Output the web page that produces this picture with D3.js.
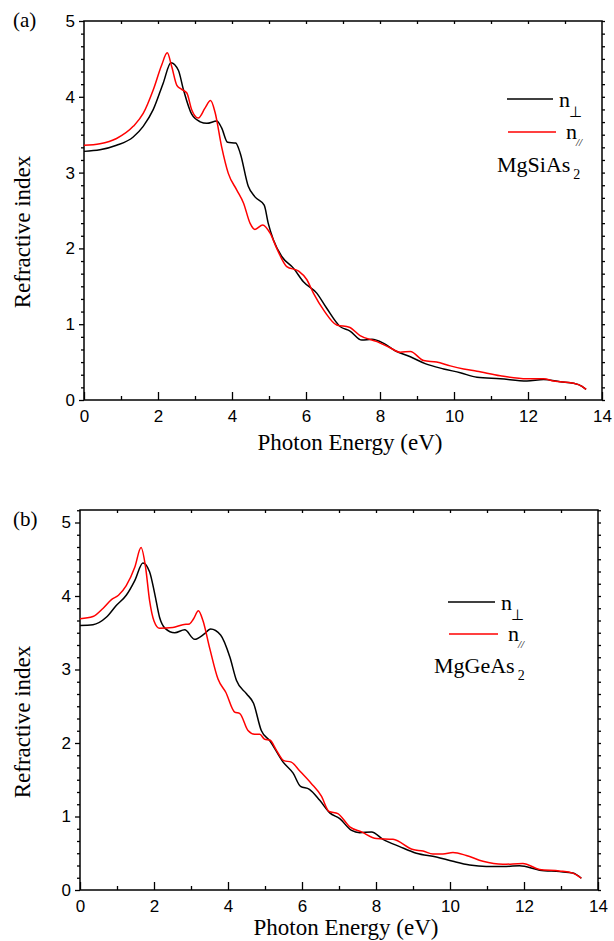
<!DOCTYPE html>
<html>
<head>
<meta charset="utf-8">
<script src="https://cdn.jsdelivr.net/npm/d3@7"></script>
<style>
  body { margin: 0; background: #fff; }
  svg { display: block; }
</style>
</head>
<body>
<div id="chart"></div>
<script>
// Data: [photon energy (eV), refractive index]
const siPerp = [
  [0, 3.28], [0.43, 3.30], [0.88, 3.36], [1.33, 3.47], [1.6, 3.61], [1.87, 3.83],
  [2.14, 4.18], [2.35, 4.45], [2.55, 4.35], [2.69, 4.09], [2.91, 3.77], [3.14, 3.67],
  [3.32, 3.65], [3.59, 3.68], [3.72, 3.59], [3.88, 3.40], [4.1, 3.39], [4.22, 3.26],
  [4.44, 2.82], [4.62, 2.68], [4.87, 2.57], [4.98, 2.33], [5.12, 2.11], [5.35, 1.89],
  [5.66, 1.74], [5.93, 1.56], [6.29, 1.41], [6.56, 1.21], [6.92, 0.97], [7.19, 0.91],
  [7.51, 0.79], [7.78, 0.80], [8.09, 0.75], [8.41, 0.65], [8.82, 0.57], [9.22, 0.48],
  [9.72, 0.41], [10.17, 0.36], [10.62, 0.30], [11.25, 0.28], [11.97, 0.25], [12.42, 0.27],
  [12.87, 0.24], [13.23, 0.22], [13.46, 0.18], [13.57, 0.14]
];
const siPar = [
  [0, 3.36], [0.43, 3.38], [0.88, 3.45], [1.33, 3.61], [1.6, 3.78], [1.87, 4.09],
  [2.1, 4.42], [2.25, 4.58], [2.37, 4.40], [2.51, 4.15], [2.6, 4.11], [2.7, 4.08],
  [2.78, 4.05], [2.91, 3.83], [3.09, 3.72], [3.27, 3.85], [3.42, 3.95], [3.54, 3.80],
  [3.72, 3.34], [3.90, 2.99], [4.13, 2.77], [4.31, 2.60], [4.49, 2.33], [4.62, 2.25],
  [4.83, 2.31], [5.03, 2.20], [5.21, 2.00], [5.48, 1.76], [5.80, 1.70], [6.02, 1.59],
  [6.20, 1.41], [6.50, 1.17], [6.83, 0.99], [7.17, 0.96], [7.46, 0.85], [7.92, 0.77],
  [8.27, 0.69], [8.55, 0.63], [8.82, 0.64], [9.18, 0.52], [9.53, 0.50], [9.90, 0.45],
  [10.26, 0.41], [10.62, 0.38], [11.25, 0.32], [11.97, 0.28], [12.42, 0.28], [12.69, 0.25],
  [13.23, 0.22], [13.46, 0.18], [13.57, 0.14]
];
const gePerp = [
  [0, 3.60], [0.35, 3.61], [0.71, 3.71], [0.98, 3.87], [1.25, 4.01], [1.48, 4.21],
  [1.70, 4.45], [1.88, 4.33], [2.02, 4.03], [2.15, 3.71], [2.3, 3.56], [2.56, 3.50],
  [2.83, 3.54], [3.10, 3.41], [3.35, 3.48], [3.53, 3.55], [3.80, 3.47], [4.05, 3.17],
  [4.23, 2.85], [4.50, 2.67], [4.69, 2.54], [4.90, 2.17], [5.13, 2.03], [5.49, 1.74],
  [5.76, 1.59], [5.96, 1.41], [6.20, 1.37], [6.48, 1.22], [6.75, 1.05], [7.02, 0.97],
  [7.34, 0.81], [7.56, 0.78], [7.88, 0.79], [8.19, 0.69], [8.64, 0.59], [9.09, 0.50],
  [9.63, 0.45], [10.08, 0.39], [10.53, 0.34], [10.98, 0.32], [11.52, 0.32], [11.88, 0.33],
  [12.42, 0.27], [12.96, 0.25], [13.32, 0.23], [13.55, 0.16]
];
const gePar = [
  [0, 3.69], [0.35, 3.72], [0.62, 3.83], [0.85, 3.95], [1.04, 4.01], [1.25, 4.14],
  [1.48, 4.39], [1.65, 4.66], [1.77, 4.40], [1.88, 3.94], [2.0, 3.66], [2.15, 3.56],
  [2.51, 3.57], [2.78, 3.61], [2.96, 3.62], [3.07, 3.69], [3.20, 3.80], [3.32, 3.67],
  [3.51, 3.28], [3.73, 2.87], [3.94, 2.69], [4.18, 2.42], [4.32, 2.40], [4.54, 2.17],
  [4.72, 2.12], [4.86, 2.12], [4.99, 2.05], [5.13, 2.04], [5.31, 1.90], [5.51, 1.76],
  [5.71, 1.74], [5.94, 1.62], [6.25, 1.45], [6.52, 1.28], [6.73, 1.07], [6.97, 1.04],
  [7.29, 0.86], [7.61, 0.79], [8.01, 0.70], [8.46, 0.69], [9.00, 0.55], [9.27, 0.53],
  [9.54, 0.49], [9.81, 0.49], [10.08, 0.51], [10.44, 0.47], [10.89, 0.39], [11.43, 0.35],
  [11.97, 0.36], [12.42, 0.28], [12.96, 0.26], [13.32, 0.23], [13.55, 0.16]
];

const xMajor = [0, 2, 4, 6, 8, 10, 12, 14];
const yMajor = [0, 1, 2, 3, 4, 5];

const serif = "'Liberation Serif', 'Times New Roman', serif";
const sans = "'Liberation Sans', Arial, sans-serif";

const W = 614, H = 941;
const svg = d3.select("#chart").append("svg").attr("width", W).attr("height", H);

// draw one panel of the figure
const drawPanel = (cfg) => {
  const { box, yMax } = cfg;
  const x = d3.scaleLinear().domain([0, 14]).range([box.left, box.right]);
  const y = d3.scaleLinear().domain([0, yMax]).range([box.bottom, box.top]);
  const g = svg.append("g");

  const xMinor = d3.range(0, 15).filter((v) => v % 2 !== 0);
  const yAll = d3.range(0, Math.floor(yMax * 6 + 1e-6) + 1).map((i) => i / 6);
  const yMinor = yAll.filter((v) => Math.abs(v - Math.round(v)) > 1e-6);

  const styleAxis = (sel) => {
    sel.select(".domain").remove();
    sel.selectAll("line").attr("stroke", "#000").attr("stroke-width", 1.3);
    sel.selectAll("text").attr("fill", "#000").style("font-family", sans).style("font-size", "17px");
  };

  // bottom axis, ticks pointing inward
  g.append("g").attr("transform", `translate(0,${box.bottom})`)
    .call(d3.axisBottom(x).tickValues(xMajor).tickSizeInner(-8).tickSizeOuter(0).tickPadding(10).tickFormat(d3.format("d")))
    .call(styleAxis);
  g.append("g").attr("transform", `translate(0,${box.bottom})`)
    .call(d3.axisBottom(x).tickValues(xMinor).tickSizeInner(-4).tickSizeOuter(0).tickFormat(""))
    .call(styleAxis);

  // top axis, small inward ticks every 1 eV
  g.append("g").attr("transform", `translate(0,${box.top})`)
    .call(d3.axisTop(x).tickValues(d3.range(1, 14)).tickSizeInner(-3).tickSizeOuter(0).tickFormat(""))
    .call(styleAxis);

  // left axis, ticks pointing outward
  g.append("g").attr("transform", `translate(${box.left},0)`)
    .call(d3.axisLeft(y).tickValues(yMajor).tickSizeInner(5).tickSizeOuter(0).tickPadding(4).tickFormat(d3.format("d")))
    .call(styleAxis);
  g.append("g").attr("transform", `translate(${box.left},0)`)
    .call(d3.axisLeft(y).tickValues(yMinor).tickSizeInner(3).tickSizeOuter(0).tickFormat(""))
    .call(styleAxis);

  // right axis, small outward ticks
  g.append("g").attr("transform", `translate(${box.right},0)`)
    .call(d3.axisRight(y).tickValues(yAll).tickSizeInner(3).tickSizeOuter(0).tickFormat(""))
    .call(styleAxis);

  // frame
  g.append("rect")
    .attr("x", box.left).attr("y", box.top)
    .attr("width", box.right - box.left).attr("height", box.bottom - box.top)
    .attr("fill", "none").attr("stroke", "#000").attr("stroke-width", 1.5);

  const line = d3.line()
    .x((d) => x(d[0]))
    .y((d) => y(d[1]))
    .curve(d3.curveMonotoneX);

  g.append("path").datum(cfg.perp).attr("d", line)
    .attr("fill", "none").attr("stroke", "#000").attr("stroke-width", 1.5);
  g.append("path").datum(cfg.par).attr("d", line)
    .attr("fill", "none").attr("stroke", "#ff0000").attr("stroke-width", 1.5);

  // panel letter
  g.append("text").attr("x", 13).attr("y", cfg.letterY)
    .style("font-family", serif).style("font-size", "21px").text(cfg.letter);

  // axis titles
  g.append("text")
    .attr("transform", `translate(${cfg.yTitleX},${cfg.yTitleY}) rotate(-90)`)
    .attr("text-anchor", "middle")
    .style("font-family", serif).style("font-size", "23px")
    .text("Refractive index");
  g.append("text")
    .attr("x", cfg.xTitleX).attr("y", box.bottom + cfg.xTitleDy)
    .attr("text-anchor", "middle")
    .style("font-family", serif).style("font-size", "23px")
    .text("Photon Energy (eV)");

  // legend
  const lg = cfg.legend;
  g.append("line").attr("x1", lg.x1).attr("x2", lg.x2).attr("y1", lg.y1).attr("y2", lg.y1)
    .attr("stroke", "#000").attr("stroke-width", 1.5);
  g.append("line").attr("x1", lg.x1 + 1).attr("x2", lg.x2 + 3).attr("y1", lg.y2).attr("y2", lg.y2)
    .attr("stroke", "#ff0000").attr("stroke-width", 1.5);

  const t1 = g.append("text").attr("x", lg.x2 + 6).attr("y", lg.y1 + 8)
    .style("font-family", serif).style("font-size", "22px");
  t1.append("tspan").text("n");
  t1.append("tspan").attr("dx", -1).attr("dy", 10).style("font-size", "15px").text("⊥");

  const t2 = g.append("text").attr("x", lg.x2 + 13).attr("y", lg.y2 + 7)
    .style("font-family", serif).style("font-size", "22px");
  t2.append("tspan").text("n");
  t2.append("tspan").attr("dx", -1).attr("dy", 7).style("font-size", "11px").style("font-style", "italic").text("//");

  const t3 = g.append("text").attr("x", lg.nameX).attr("y", lg.nameY)
    .style("font-family", serif).style("font-size", "22px");
  t3.append("tspan").text(cfg.name);
  t3.append("tspan").attr("dx", 3).attr("dy", 7).style("font-size", "14px").text("2");
};

drawPanel({
  box: { left: 84, right: 602, top: 21, bottom: 400 },
  yMax: 5,
  perp: siPerp, par: siPar,
  letter: "(a)", letterY: 27,
  yTitleX: 30, yTitleY: 232, xTitleX: 350, xTitleDy: 50,
  name: "MgSiAs",
  legend: { x1: 507, x2: 553, y1: 99, y2: 132, nameX: 497, nameY: 172 }
});

drawPanel({
  box: { left: 80, right: 598, top: 510, bottom: 890 },
  yMax: 5.17,
  perp: gePerp, par: gePar,
  letter: "(b)", letterY: 526,
  yTitleX: 30, yTitleY: 722, xTitleX: 346, xTitleDy: 45,
  name: "MgGeAs",
  legend: { x1: 448, x2: 495, y1: 602, y2: 634, nameX: 434, nameY: 673 }
});
</script>
</body>
</html>
